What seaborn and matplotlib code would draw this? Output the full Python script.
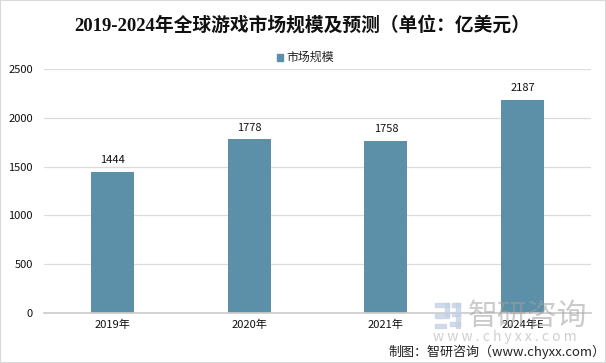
import pandas as pd
import seaborn as sns
import matplotlib.pyplot as plt
from matplotlib.patches import Rectangle

# data
years = ['2019年', '2020年', '2021年', '2024年E']
market_size = [1444, 1778, 1758, 2187]
y_ticks = [0, 500, 1000, 1500, 2000, 2500]

W, H = 606, 363
df = pd.DataFrame({'year': years, 'size': market_size})

sns.set_theme(style='white')
plt.rcParams['font.family'] = ['Noto Sans CJK SC', 'DejaVu Sans']

fig = plt.figure(figsize=(W / 100, H / 100), dpi=100, facecolor='white')
ax = fig.add_axes([44 / W, 1 - 313 / H, 547 / W, 244 / H])

sns.barplot(data=df, x='year', y='size', color='#5b90a8', saturation=1,
            width=0.315, ax=ax, label='市场规模', legend=False, zorder=2, linewidth=0)

ax.set_xlim(-0.5, 3.5)
ax.set_ylim(0, 2500)
ax.set_yticks(y_ticks)
ax.set_xlabel('')
ax.set_ylabel('')
ax.grid(axis='y', color='#dcdcdc', lw=0.9, zorder=0)
ax.set_axisbelow(True)
ax.tick_params(axis='both', length=0, labelsize=8, labelcolor='#111111')
ax.tick_params(axis='y', pad=8)
ax.tick_params(axis='x', pad=5)
sns.despine(ax=ax, left=True)
ax.spines['bottom'].set_color('#cccccc')

# value labels
for i, v in enumerate(market_size):
    ax.annotate(str(v), (i, v), xytext=(0, 5), textcoords='offset points',
                ha='center', va='bottom', fontsize=8, color='#111111')

# title, in a serif for the latin digits and a bold CJK face
fig.text(0.498, 1 - 25 / H, '2019-2024年全球游戏市场规模及预测（单位：亿美元）',
         ha='center', va='center', fontsize=13.5, fontweight='bold', color='#111111',
         family=['Liberation Serif', 'Noto Sans CJK SC'])

# legend
fig.patches.append(Rectangle((277 / W, 1 - 61 / H), 6 / W, 7 / H, transform=fig.transFigure,
                             color='#5b90a8'))
fig.text(286 / W, 1 - 57 / H, '市场规模', ha='left', va='center', fontsize=8.6, color='#222222')

# watermark logo
logo = [(435, 303, 14, 4), (445, 303, 4, 13), (435, 314, 14, 4), (435, 324, 11, 4),
        (452, 303, 8, 4), (452, 312, 8, 4), (450, 322, 10, 4), (456, 303, 4, 25)]
for x, y, w, h in logo:
    fig.patches.append(Rectangle((x / W, 1 - (y + h) / H), w / W, h / H, transform=fig.transFigure,
                                 color='#c4d0e4', alpha=0.75, zorder=5))
fig.text(468 / W, 1 - 316 / H, '智研咨询', ha='left', va='center', fontsize=21.5, color='#a0a0a0',
         alpha=0.55, zorder=5)
fig.text(433 / W, 1 - 337 / H, 'w w w . c h y x x . c o m', ha='left', va='center', fontsize=10,
         color='#a8a8a8', alpha=0.55, zorder=5)

# source
fig.text(388 / W, 1 - 352 / H, '制图：智研咨询（www.chyxx.com）', ha='left', va='center',
         fontsize=9.4, color='#222222', zorder=6)

# frame of the image
fig.patches.append(Rectangle((0, 0), 1, 1, transform=fig.transFigure, fill=False,
                             ec='#d9d9d9', lw=1.5))

fig.savefig('out.png', dpi=100)
